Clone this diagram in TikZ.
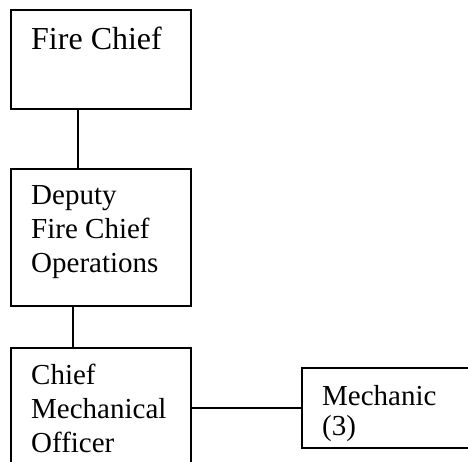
\documentclass[tikz,border=0pt]{standalone}
\usepackage{fontspec}
\setmainfont{Liberation Serif}
\begin{document}
\begin{tikzpicture}[x=1pt,y=-1pt,
  box/.style={draw=black, line width=1.6pt, inner sep=0pt, anchor=north west},
  link/.style={draw=black, line width=1.6pt},
  txt/.style={inner sep=0pt, anchor=base west, align=left, font=\fontsize{29}{34}\selectfont},
  bigtxt/.style={inner sep=0pt, anchor=base west, font=\fontsize{32}{36}\selectfont}]
\clip (0,0) rectangle (468,461);
\fill[white] (0,0) rectangle (468,461);
% boxes
\node[box, minimum width=180pt, minimum height=99pt] (fc) at (10,9) {};
\node[box, minimum width=180pt, minimum height=137pt] (dfc) at (10,168) {};
\node[box, minimum width=180pt, minimum height=140pt] (cmo) at (10,347) {};
\node[box, minimum width=190pt, minimum height=80pt] (mech) at (301,367) {};
% texts (base anchor = last line's baseline)
\node[bigtxt] (tfc) at (31,49) {Fire Chief};
\node[txt] (tdfc) at (31,272) {Deputy\\Fire Chief\\Operations};
\node[txt] (tcmo) at (31,452) {Chief\\Mechanical\\Officer};
\node[txt, font=\fontsize{29}{30}\selectfont] (tmech) at (322,435) {Mechanic\\(3)};
% connectors
\draw[link] ([xshift=68pt]fc.south west) -- ([xshift=68pt]dfc.north west);
\draw[link] ([xshift=63pt]dfc.south west) -- ([xshift=63pt]cmo.north west);
\draw[link] (mech.west) -- (mech.west -| cmo.east);
\end{tikzpicture}
\end{document}
